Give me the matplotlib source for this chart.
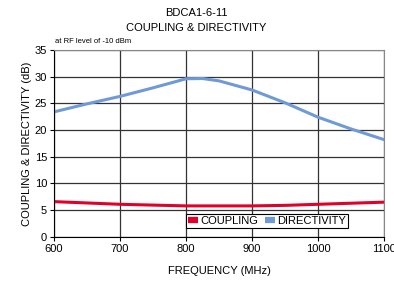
import matplotlib
matplotlib.use("Agg")
import matplotlib.pyplot as plt
import numpy as np

plt.rcParams['font.family'] = ['Liberation Sans', 'DejaVu Sans']

freq = [600, 650, 700, 750, 800, 825, 850, 900, 950, 1000, 1050, 1100]
directivity = [23.4, 24.9, 26.3, 27.9, 29.6, 29.65, 29.2, 27.5, 25.1, 22.4, 20.2, 18.2]
coupling = [6.6, 6.35, 6.1, 5.95, 5.8, 5.8, 5.8, 5.8, 5.9, 6.1, 6.3, 6.5]

xticks = [600, 700, 800, 900, 1000, 1100]
yticks = [0, 5, 10, 15, 20, 25, 30, 35]

fig = plt.figure(figsize=(3.94, 2.82), dpi=100)
ax = fig.add_axes([0.137, 0.16, 0.838, 0.663])

ax.plot(freq, coupling, color='#e0002a', lw=2.2, label='COUPLING')
ax.plot(freq, directivity, color='#6f9ad6', lw=2.2, label='DIRECTIVITY')

ax.set_xlim(600, 1100)
ax.set_ylim(0, 35)
ax.set_xticks(xticks)
ax.set_yticks(yticks)
ax.grid(True, color='#333333', lw=0.9)
ax.set_axisbelow(True)
for s in ['top', 'right']:
    ax.spines[s].set_color('#888888')
for s in ['left', 'bottom']:
    ax.spines[s].set_color('black')
ax.tick_params(labelsize=8, length=3, width=0.8, direction='out', pad=2)
ax.set_xlabel('FREQUENCY (MHz)', fontsize=8, labelpad=9)
ax.set_ylabel('COUPLING & DIRECTIVITY (dB)', fontsize=8, labelpad=2)

fig.text(0.499, 0.955, 'BDCA1-6-11', ha='center', va='center', fontsize=8)
fig.text(0.499, 0.9, 'COUPLING & DIRECTIVITY', ha='center', va='center', fontsize=8)
fig.text(0.14, 0.852, 'at RF level of -10 dBm', ha='left', va='center', fontsize=5.5)

leg = ax.legend(loc='lower center', bbox_to_anchor=(0.645, 0.045), ncol=2, fontsize=8,
                frameon=True, fancybox=False, framealpha=1, edgecolor='black',
                handlelength=0.9, handletextpad=0.2, columnspacing=0.6,
                borderpad=0.2, borderaxespad=0)
leg.get_frame().set_linewidth(0.8)
for h in leg.get_lines():
    h.set_linewidth(4.5)
    h.set_solid_capstyle('butt')

fig.savefig('out.png', dpi=100)
